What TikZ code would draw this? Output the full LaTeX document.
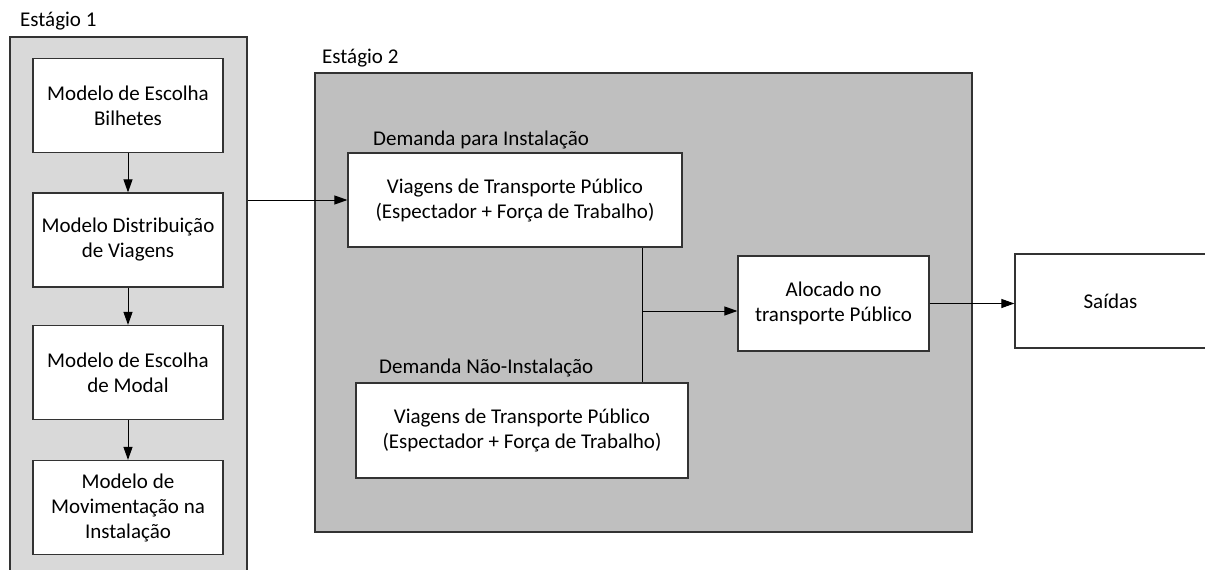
\documentclass[tikz,border=0pt]{standalone}
\usepackage{fontspec}
\setmainfont{Carlito}
\usetikzlibrary{arrows.meta}

\begin{document}
\begin{tikzpicture}[
        x=1pt,y=-1pt,
        font=\fontsize{21}{25}\selectfont,
        box/.style={draw=black!80,line width=1.2pt,fill=white,align=center,inner sep=0pt},
        stage/.style={draw=black!80,line width=1.2pt,inner sep=0pt},
        lbl/.style={anchor=base west,inner sep=0pt},
        link/.style={line width=1pt,-{Triangle[length=13pt,width=9pt]}}
    ]
    \useasboundingbox (0,0) rectangle (1205,570);
    \node [stage,fill=black!15,minimum width=237,minimum height=563] (s1) at (128.5,318.5) {};
    \node [stage,fill=black!25,minimum width=657,minimum height=459] (s2) at (643.5,302.5) {};
    \node [lbl] (t1) at (20,27) {Estágio 1};
    \node [lbl] (t2) at (322,63) {Estágio 2};
    \node [lbl] (tdi) at (373,145) {Demanda para Instalação};
    \node [lbl] (tdni) at (379,373) {Demanda Não-Instalação};

    \node [box,minimum width=190,minimum height=94] (b1) at (128,105.5) {Modelo de Escolha\\Bilhetes};
    \node [box,minimum width=190,minimum height=94] (b2) at (128,240) {Modelo Distribuição\\de Viagens};
    \node [box,minimum width=190,minimum height=94] (b3) at (128,372.5) {Modelo de Escolha\\de Modal};
    \node [box,minimum width=190,minimum height=94] (b4) at (128,507.5) {Modelo de\\Movimentação na\\Instalação};

    \node [box,minimum width=334,minimum height=94] (di) at (515,200) {Viagens de Transporte Público\\(Espectador + Força de Trabalho)};
    \node [box,minimum width=332,minimum height=95] (dni) at (522,430.5) {Viagens de Transporte Público\\(Espectador + Força de Trabalho)};
    \node [box,minimum width=191,minimum height=95] (al) at (833.5,303.5) {Alocado no\\transporte Público};
    \node [box,minimum width=191,minimum height=94] (sa) at (1110.5,301) {Saídas};
    \coordinate (j) at (642,311);

    \draw [link] (b1.south) -- (b2.north);
    \draw [link] (b2.south) -- (b3.north);
    \draw [link] (b3.south) -- (b4.north);
    \draw [link] (s1.east |- di.west) -- (di.west);
    \draw [line width=1pt] (di.south -| j) -- (dni.north -| j);
    \draw [link] (j) -- (j -| al.west);
    \draw [link] (al.east) -- (al.east -| sa.west);
\end{tikzpicture}
\end{document}
